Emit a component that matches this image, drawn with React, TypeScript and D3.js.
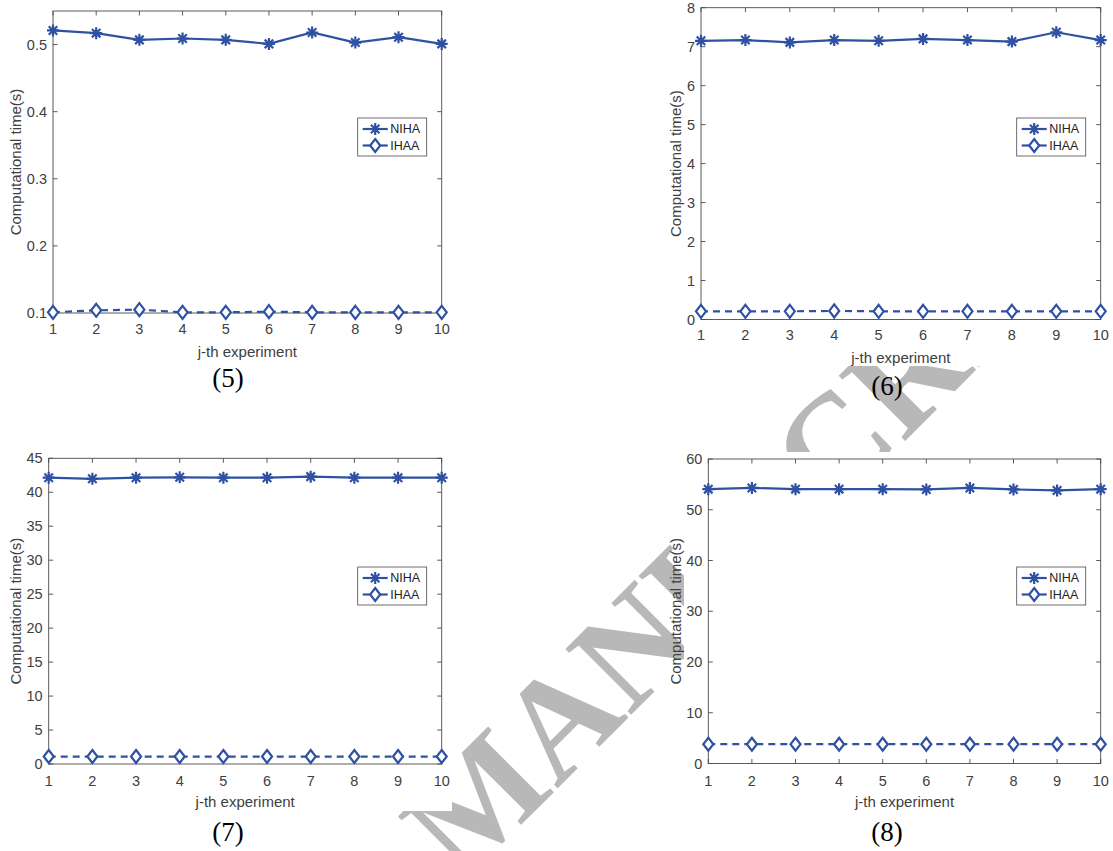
import React from "react";
import * as d3 from "d3";

const experiments = [1, 2, 3, 4, 5, 6, 7, 8, 9, 10];

const niha5 = [0.521, 0.517, 0.507, 0.509, 0.507, 0.501, 0.518, 0.503, 0.511, 0.501];
const ihaa5 = [0.101, 0.104, 0.105, 0.101, 0.101, 0.102, 0.101, 0.101, 0.101, 0.101];
const yTicks5 = [0.1, 0.2, 0.3, 0.4, 0.5];

const niha6 = [7.15, 7.17, 7.11, 7.17, 7.15, 7.2, 7.17, 7.13, 7.37, 7.17];
const ihaa6 = [0.21, 0.21, 0.21, 0.22, 0.21, 0.21, 0.21, 0.21, 0.21, 0.21];
const yTicks6 = [0, 1, 2, 3, 4, 5, 6, 7, 8];

const niha7 = [42.15, 41.98, 42.15, 42.2, 42.15, 42.15, 42.3, 42.15, 42.15, 42.15];
const ihaa7 = [1.1, 1.1, 1.1, 1.1, 1.1, 1.1, 1.1, 1.1, 1.1, 1.1];
const yTicks7 = [0, 5, 10, 15, 20, 25, 30, 35, 40, 45];

const niha8 = [54.06, 54.3, 54.06, 54.06, 54.06, 54.0, 54.3, 54.0, 53.8, 54.06];
const ihaa8 = [3.8, 3.8, 3.8, 3.8, 3.8, 3.8, 3.8, 3.8, 3.8, 3.8];
const yTicks8 = [0, 10, 20, 30, 40, 50, 60];

const seriesNames = ["NIHA", "IHAA"];
const captions = ["(5)", "(6)", "(7)", "(8)"];
const xLabel = "j-th experiment";
const yLabel = "Computational time(s)";

const BLUE = "#2f51a3";
const AXIS = "#4a4a4a";
const TEXT = "#404040";
const SANS = "'Liberation Sans', Arial, Helvetica, sans-serif";
const SERIF = "'Liberation Serif', 'Times New Roman', serif";

type PanelSpec = {
  left: number; right: number; top: number; bottom: number;
  domain: [number, number]; ticks: number[];
  niha: number[]; ihaa: number[];
  ylabelX: number; xtickY: number; xlabelY: number;
  caption: string; capX: number; capY: number;
  legendTop: number;
  bg: [number, number, number, number];
};

const panels: PanelSpec[] = [
  { left: 53, right: 441.7, top: 11, bottom: 313, domain: [0.1, 0.55], ticks: yTicks5, niha: niha5, ihaa: ihaa5,
    ylabelX: 15, xtickY: 329, xlabelY: 351, caption: captions[0], capX: 228, capY: 378, legendTop: 118,
    bg: [0, 0, 458, 362] },
  { left: 701, right: 1100.7, top: 7.7, bottom: 319.5, domain: [0, 8], ticks: yTicks6, niha: niha6, ihaa: ihaa6,
    ylabelX: 675, xtickY: 335, xlabelY: 357.7, caption: captions[1], capX: 887, capY: 386, legendTop: 118,
    bg: [666, 0, 447, 366] },
  { left: 48.7, right: 441.7, top: 458.3, bottom: 764, domain: [0, 45], ticks: yTicks7, niha: niha7, ihaa: ihaa7,
    ylabelX: 15, xtickY: 780.7, xlabelY: 801, caption: captions[2], capX: 228, capY: 831.7, legendTop: 567,
    bg: [0, 447, 452, 364] },
  { left: 708.3, right: 1100.7, top: 459, bottom: 763.5, domain: [0, 60], ticks: yTicks8, niha: niha8, ihaa: ihaa8,
    ylabelX: 675, xtickY: 780.7, xlabelY: 801, caption: captions[3], capX: 887, capY: 831.7, legendTop: 567,
    bg: [684, 452, 429, 360] },
];

function Asterisk({ x, y, s = 6 }: { x: number; y: number; s?: number }) {
  const d = s * 0.707;
  return (
    <path
      d={`M${x - s},${y}L${x + s},${y}M${x},${y - s}L${x},${y + s}M${x - d},${y - d}L${x + d},${y + d}M${x - d},${y + d}L${x + d},${y - d}`}
      stroke={BLUE} strokeWidth={2.2} fill="none"
    />
  );
}

function Diamond({ x, y }: { x: number; y: number }) {
  const w = 5, h = 6.5;
  return (
    <path d={`M${x},${y - h}L${x + w},${y}L${x},${y + h}L${x - w},${y}Z`} stroke={BLUE} strokeWidth={2.2} fill="#fff" />
  );
}

function fmt(v: number) {
  return Number.isInteger(v) ? String(v) : v.toFixed(1);
}

function Panel({ p }: { p: PanelSpec }) {
  const x = d3.scaleLinear().domain([1, 10]).range([p.left, p.right]);
  const y = d3.scaleLinear().domain(p.domain).range([p.bottom, p.top]);
  const line = d3.line<number>().x((_, i) => x(experiments[i])).y((v) => y(v));
  const tl = 4.5;
  const lgRight = p.right - 15;
  const lgLeft = lgRight - 69;
  const lgTop = p.legendTop;
  return (
    <g>
      <rect x={p.bg[0]} y={p.bg[1]} width={p.bg[2]} height={p.bg[3]} fill="#fff" />
      <rect x={p.left} y={p.top} width={p.right - p.left} height={p.bottom - p.top} fill="none" stroke={AXIS} strokeWidth={0.9} />
      {experiments.map((e) => (
        <g key={"xt" + e}>
          <line x1={x(e)} x2={x(e)} y1={p.bottom} y2={p.bottom - tl} stroke={AXIS} strokeWidth={0.9} />
          <line x1={x(e)} x2={x(e)} y1={p.top} y2={p.top + tl} stroke={AXIS} strokeWidth={0.9} />
          <text x={x(e)} y={p.xtickY} textAnchor="middle" dominantBaseline="central" fontFamily={SANS} fontSize={14.5} fill={TEXT}>{e}</text>
        </g>
      ))}
      {p.ticks.map((t) => (
        <g key={"yt" + t}>
          <line x1={p.left} x2={p.left + tl} y1={y(t)} y2={y(t)} stroke={AXIS} strokeWidth={0.9} />
          <line x1={p.right} x2={p.right - tl} y1={y(t)} y2={y(t)} stroke={AXIS} strokeWidth={0.9} />
          <text x={p.left - 6} y={y(t)} textAnchor="end" dominantBaseline="central" fontFamily={SANS} fontSize={14.5} fill={TEXT}>{fmt(t)}</text>
        </g>
      ))}
      <text x={(p.left + p.right) / 2} y={p.xlabelY} textAnchor="middle" dominantBaseline="central" fontFamily={SANS} fontSize={15} fill={TEXT}>{xLabel}</text>
      <text transform={`translate(${p.ylabelX},${(p.top + p.bottom) / 2}) rotate(-90)`} textAnchor="middle" dominantBaseline="central" fontFamily={SANS} fontSize={15} fill={TEXT}>{yLabel}</text>
      <path d={line(p.niha) || ""} fill="none" stroke={BLUE} strokeWidth={2.2} />
      <path d={line(p.ihaa) || ""} fill="none" stroke={BLUE} strokeWidth={2.2} strokeDasharray="7,5" />
      {p.niha.map((v, i) => <Asterisk key={"a" + i} x={x(experiments[i])} y={y(v)} />)}
      {p.ihaa.map((v, i) => <Diamond key={"d" + i} x={x(experiments[i])} y={y(v)} />)}
      <rect x={lgLeft} y={lgTop} width={69} height={38} fill="#fff" stroke={AXIS} strokeWidth={0.8} />
      {seriesNames.map((n, i) => {
        const ly = lgTop + 11 + i * 16.5;
        return (
          <g key={n}>
            <line x1={lgLeft + 5} x2={lgLeft + 30} y1={ly} y2={ly} stroke={BLUE} strokeWidth={2.2} />
            {i === 0 ? <Asterisk x={lgLeft + 17.5} y={ly} /> : <Diamond x={lgLeft + 17.5} y={ly} />}
            <text x={lgLeft + 32.5} y={ly} dominantBaseline="central" fontFamily={SANS} fontSize={12.5} fill="#222">{n}</text>
          </g>
        );
      })}
      <text x={p.capX} y={p.capY} textAnchor="middle" dominantBaseline="central" fontFamily={SERIF} fontSize={27} fill="#000">{p.caption}</text>
    </g>
  );
}

export default function App() {
  return (
    <svg width={1113} height={851} style={{ position: "absolute", left: 0, top: 0, background: "#fff" }}>
      <rect width={1113} height={851} fill="#fff" />
      <g transform="translate(462,884) rotate(-45)">
        <text x={0} y={0} fontFamily={SERIF} fontWeight="bold" fontSize={142} fill="#b8b8b8">MANUSCRIPT</text>
        <text x={-30} y={0} textAnchor="end" fontFamily={SERIF} fontWeight="bold" fontSize={142} fill="#b8b8b8">ACCEPTED</text>
      </g>
      {panels.map((p, i) => <Panel key={i} p={p} />)}
    </svg>
  );
}
